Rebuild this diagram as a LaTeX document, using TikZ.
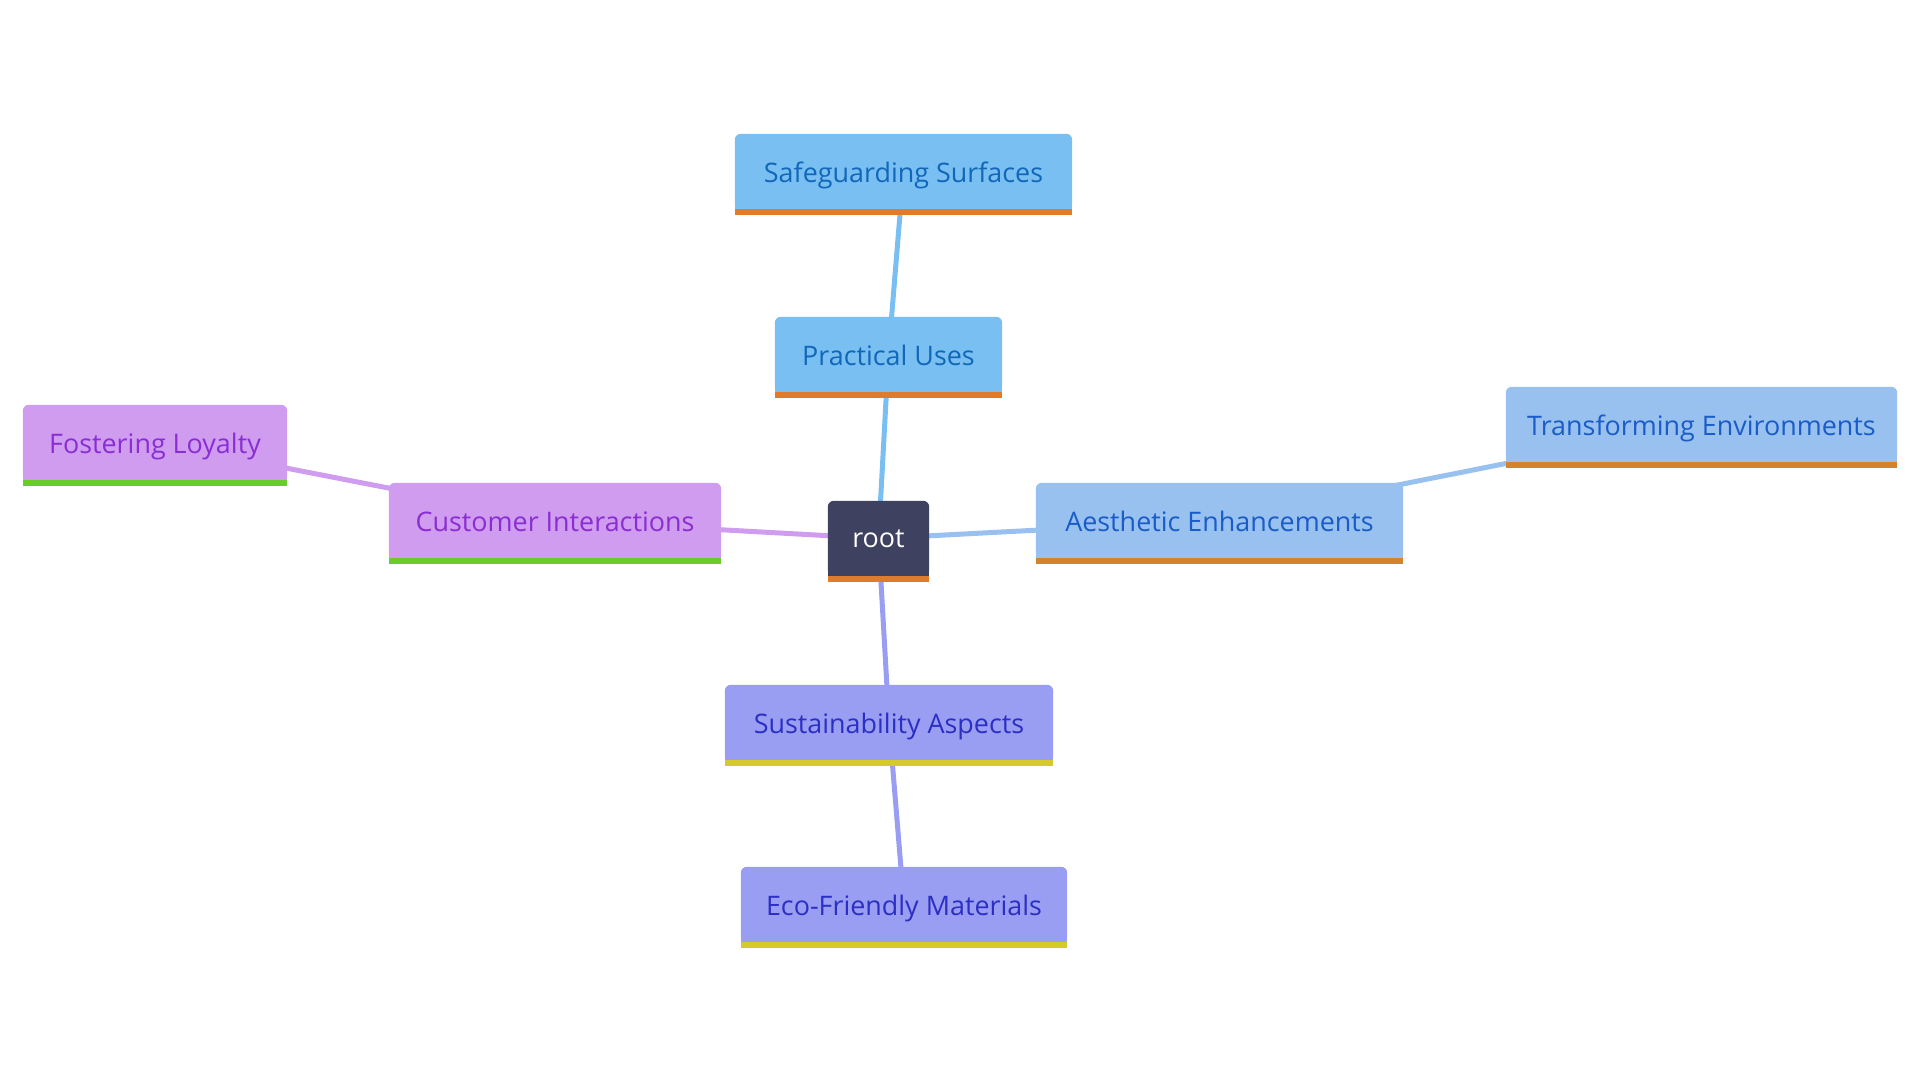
\documentclass[tikz,border=0pt]{standalone}
\usepackage{fontspec}
\setmainfont{Open Sans}
\usetikzlibrary{backgrounds}
\pgfdeclarelayer{edges}
\pgfsetlayers{edges,background,main}
\definecolor{rootfill}{HTML}{3F4160}
\definecolor{practfill}{HTML}{7ABFF2}
\definecolor{aesthfill}{HTML}{98C1EF}
\definecolor{custfill}{HTML}{CF9CF0}
\definecolor{sustfill}{HTML}{9A9EF2}
\definecolor{practtext}{HTML}{1167B8}
\definecolor{aesthtext}{HTML}{1A5CC8}
\definecolor{custtext}{HTML}{8A2DD3}
\definecolor{susttext}{HTML}{2B2FC4}
\definecolor{orangebar}{HTML}{E07B2B}
\definecolor{darkorangebar}{HTML}{D4832A}
\definecolor{greenbar}{HTML}{6ACB2B}
\definecolor{yellowbar}{HTML}{D6C92B}
\tikzset{
  mmnode/.style={inner sep=0pt, minimum height=75bp, font=\fontsize{27}{33}\selectfont},
  mmchild/.style={mmnode, text height=24bp, text depth=3bp},
  mmedge/.style={line width=5bp, line cap=round},
}
\begin{document}
\begin{tikzpicture}[x=1bp,y=-1bp]
\useasboundingbox (0,0) rectangle (1920,1080);
%%
  % Node: root
  \node[mmnode, minimum width=101bp, text=white] (root) at (878.5,538.5) {root};
  % Node: Practical Uses
  \node[mmchild, minimum width=227bp, text=practtext] (practical) at (888.5,354.5) {Practical Uses};
  % Node: Safeguarding Surfaces
  \node[mmchild, minimum width=337bp, text=practtext] (safeguard) at (903.5,171.5) {Safeguarding Surfaces};
  % Node: Aesthetic Enhancements
  \node[mmchild, minimum width=367bp, text=aesthtext] (aesthetic) at (1219.5,520.5) {Aesthetic Enhancements};
  % Node: Transforming Environments
  \node[mmchild, minimum width=391bp, text=aesthtext] (environ) at (1701.5,424.5) {Transforming Environments};
  % Node: Customer Interactions
  \node[mmchild, minimum width=332bp, text=custtext] (customer) at (555,520.5) {Customer Interactions};
  % Node: Fostering Loyalty
  \node[mmchild, minimum width=264bp, text=custtext] (loyalty) at (155,442.5) {Fostering Loyalty};
  % Node: Sustainability Aspects
  \node[mmchild, minimum width=328bp, text=susttext] (sustain) at (889,722.5) {Sustainability Aspects};
  % Node: Eco-Friendly Materials
  \node[mmchild, minimum width=326bp, text=susttext] (ecomat) at (904,904.5) {Eco-Friendly Materials};
%
\begin{pgfonlayer}{background}
  \foreach \n/\f/\b in {root/rootfill/orangebar, practical/practfill/orangebar,
      safeguard/practfill/orangebar, aesthetic/aesthfill/darkorangebar,
      environ/aesthfill/darkorangebar, customer/custfill/greenbar,
      loyalty/custfill/greenbar, sustain/sustfill/yellowbar, ecomat/sustfill/yellowbar}{
    \fill[\f, rounded corners=6bp] (\n.north west) rectangle (\n.south east);
    \fill[\f] (\n.west) rectangle (\n.south east);
    \fill[\b] (\n.south west) rectangle ([yshift=-6bp]\n.south east);
  }
\end{pgfonlayer}
%
\begin{pgfonlayer}{edges}
  % Edge: root -> Practical Uses
  \draw[mmedge, practfill] (root.center) -- (practical.center);
  % Edge: Practical Uses -> Safeguarding Surfaces
  \draw[mmedge, practfill] (practical.center) -- (safeguard.center);
  % Edge: root -> Aesthetic Enhancements
  \draw[mmedge, aesthfill] (root.center) -- (aesthetic.center);
  % Edge: Aesthetic Enhancements -> Transforming Environments
  \draw[mmedge, aesthfill] (aesthetic.center) -- (environ.center);
  % Edge: root -> Customer Interactions
  \draw[mmedge, custfill] (root.center) -- (customer.center);
  % Edge: Customer Interactions -> Fostering Loyalty
  \draw[mmedge, custfill] (customer.center) -- (loyalty.center);
  % Edge: root -> Sustainability Aspects
  \draw[mmedge, sustfill] (root.center) -- (sustain.center);
  % Edge: Sustainability Aspects -> Eco-Friendly Materials
  \draw[mmedge, sustfill] (sustain.center) -- (ecomat.center);
\end{pgfonlayer}
%
\end{tikzpicture}
\end{document}
